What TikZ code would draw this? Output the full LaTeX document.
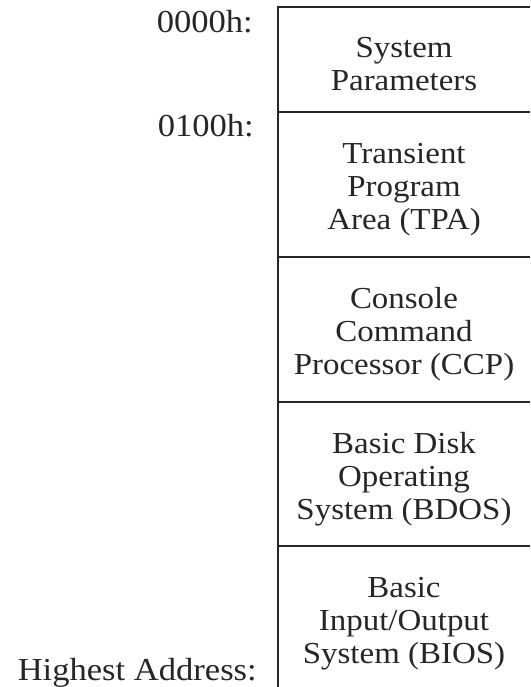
\documentclass[tikz,border=0pt]{standalone}
\usepackage{fontspec}
\setmainfont[FakeStretch=1.08]{Liberation Serif}
\usepackage{tikz}
\usetikzlibrary{positioning}
\tikzset{
    region/.style={minimum width=252pt, inner sep=0pt, outer sep=0pt},
    regiontext/.style={inner sep=0pt, align=center, yshift=-5pt, text=black!85, font=\fontsize{30.5}{33}\selectfont},
    addrlabel/.style={inner sep=0pt, text=black!85, font=\fontsize{32}{33}\selectfont},
    memline/.style={line width=1.8pt, black!85},
}

\begin{document}
\begin{tikzpicture}[x=1pt,y=-1pt]
\useasboundingbox (0,0) rectangle (530,687);
% memory regions, top to bottom
\node[region, minimum height=105pt, anchor=north west] (sysparam) at (278,7) {};
\node[region, minimum height=145pt, below=0pt of sysparam] (tpa) {};
\node[region, minimum height=145pt, below=0pt of tpa] (ccp) {};
\node[region, minimum height=144pt, below=0pt of ccp] (bdos) {};
\node[region, minimum height=145pt, below=0pt of bdos] (bios) {};

\node[regiontext] (sysparamtxt) at (sysparam.center) {System\\Parameters};
\node[regiontext] (tpatxt) at (tpa.center) {Transient\\Program\\Area (TPA)};
\node[regiontext] (ccptxt) at (ccp.center) {Console\\Command\\Processor (CCP)};
\node[regiontext] (bdostxt) at (bdos.center) {Basic Disk\\Operating\\System (BDOS)};
\node[regiontext] (biostxt) at (bios.center) {Basic\\Input/Output\\System (BIOS)};

% addresses
\node[addrlabel, anchor=base east] (addrlow) at (253,33) {0000h:};
\node[addrlabel, anchor=base east] (addrtpa) at (254,137) {0100h:};
\node[addrlabel, anchor=base east] (addrhigh) at (257,680) {Highest Address:};

\draw[memline] (sysparam.north east) -- (sysparam.north west) -- (bios.south west);
\foreach \r in {sysparam,tpa,ccp,bdos}
  \draw[memline] (\r.south west) -- (\r.south east);
\end{tikzpicture}
\end{document}
